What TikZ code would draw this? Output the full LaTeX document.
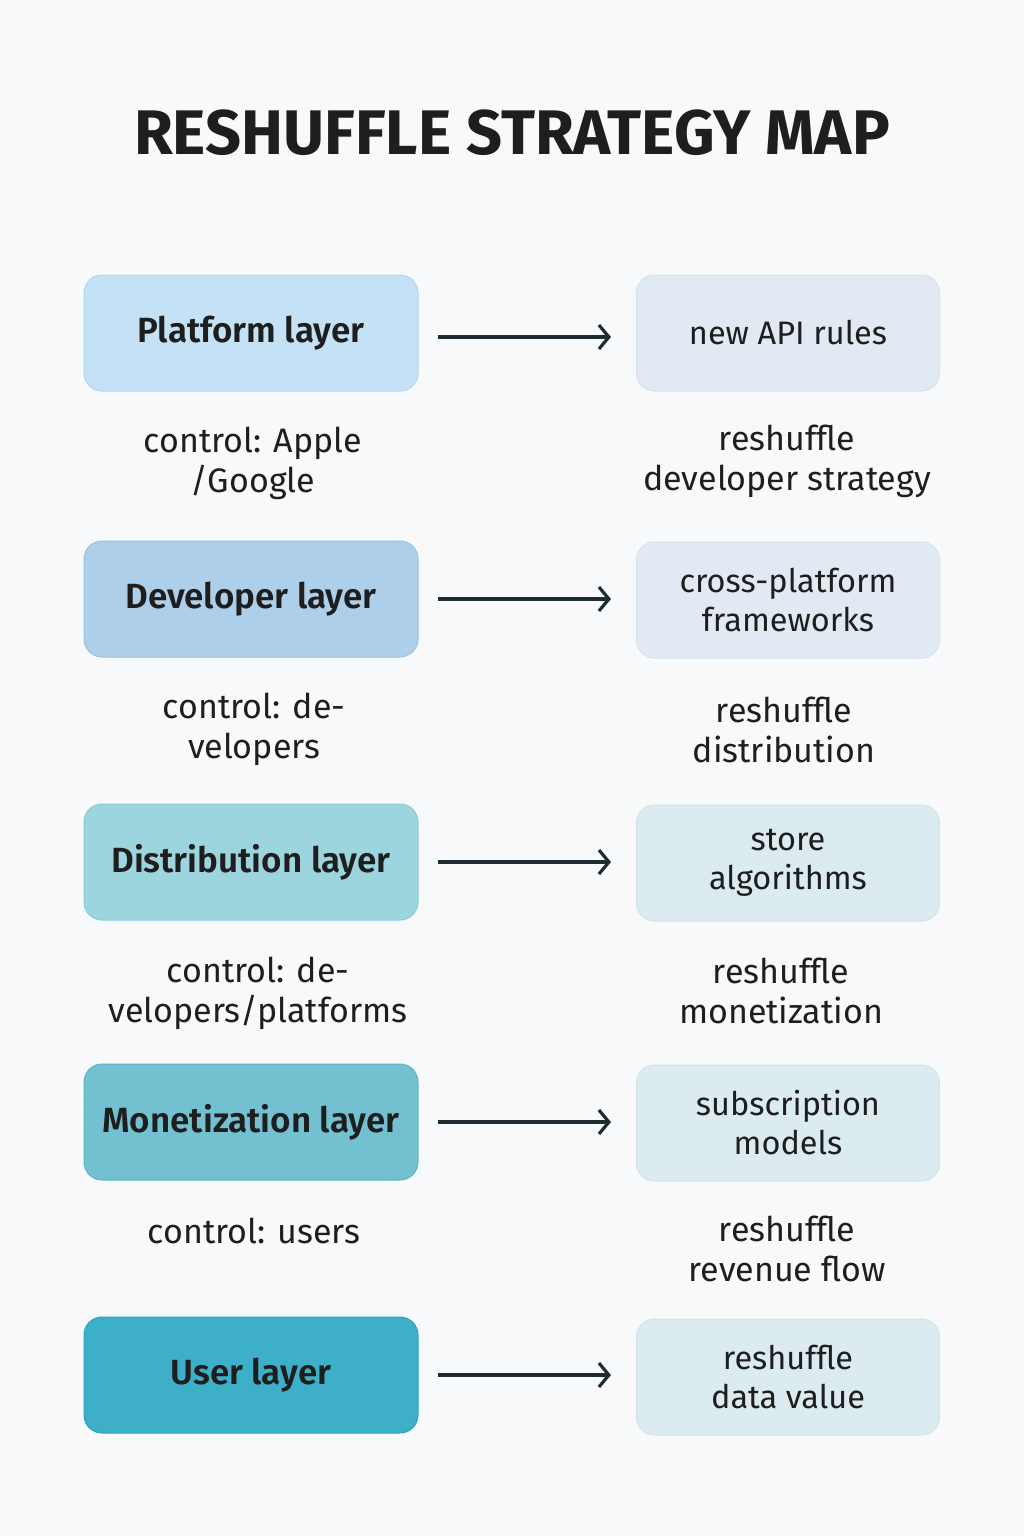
\documentclass[tikz,border=0pt]{standalone}
\usepackage{fontspec}
\setmainfont{Fira Sans}[BoldFont={Fira Sans SemiBold}]
\newfontfamily\heavyfont{Fira Sans Bold}
\usetikzlibrary{arrows.meta}
\definecolor{bg}{HTML}{F8F9FA}
\definecolor{ink}{HTML}{1E1E1E}
\definecolor{arr}{HTML}{1F2D33}
\definecolor{cA}{HTML}{C5E1F5}\definecolor{bA}{HTML}{B3D5EE}
\definecolor{cB}{HTML}{AECFEA}\definecolor{bB}{HTML}{9CC3E2}
\definecolor{cC}{HTML}{9DD5DF}\definecolor{bC}{HTML}{8CCBD6}
\definecolor{cD}{HTML}{72C0D0}\definecolor{bD}{HTML}{5FB4C7}
\definecolor{cE}{HTML}{3EAFC8}\definecolor{bE}{HTML}{2EA2BC}
\definecolor{rA}{HTML}{E1EAF3}\definecolor{rbA}{HTML}{D6E2EE}
\definecolor{rC}{HTML}{DBEBF0}\definecolor{rbC}{HTML}{D0E4EA}
\tikzset{
  layerbox/.style={rounded corners=18pt, minimum width=334pt, minimum height=116pt, line width=1pt, align=center, text=ink, font=\fontsize{35}{40}\selectfont\bfseries},
  effbox/.style={rounded corners=18pt, minimum width=303pt, minimum height=116pt, line width=1pt, align=center, text=ink, font=\fontsize{32.5}{39}\selectfont},
  lbl/.style={align=center, text=ink, font=\fontsize{34}{40}\selectfont},
  flow/.style={draw=arr, line width=3.2pt, -{Straight Barb[length=10pt,width=24pt,line width=3.2pt]}, shorten <=19pt, shorten >=25pt}
}
\begin{document}
\begin{tikzpicture}[x=1pt,y=-1pt]
\fill[bg] (0,0) rectangle (1024,1536);
\useasboundingbox (0,0) rectangle (1024,1536);
\node[text=ink, font=\fontsize{63}{70}\heavyfont] (title) at (512,133) {RESHUFFLE STRATEGY MAP};

\node[layerbox, fill=cA, draw=bA] (L1) at (251,333) {Platform layer};
\node[layerbox, fill=cB, draw=bB] (L2) at (251,599) {Developer layer};
\node[layerbox, fill=cC, draw=bC] (L3) at (251,862) {Distribution layer};
\node[layerbox, fill=cD, draw=bD] (L4) at (251,1122) {Monetization layer};
\node[layerbox, fill=cE, draw=bE] (L5) at (251,1375) {User layer};

\node[effbox, fill=rA, draw=rbA] (R1) at (788,333) {new API rules};
\node[effbox, fill=rA, draw=rbA] (R2) at (788,600) {cross-platform\\frameworks};
\node[effbox, fill=rC, draw=rbC] (R3) at (788,863) {store\\algorithms};
\node[effbox, fill=rC, draw=rbC] (R4) at (788,1123) {subscription\\models};
\node[effbox, fill=rC, draw=rbC] (R5) at (788,1377) {reshuffle\\data value};

\draw[flow] (L1.east) ++(0,4) -- (R1.west |- 0,337);
\draw[flow] (L2.east) -- (R2.west |- L2.east);
\draw[flow] (L3.east) -- (R3.west |- L3.east);
\draw[flow] (L4.east) -- (R4.west |- L4.east);
\draw[flow] (L5.east) -- (R5.west |- L5.east);

\node[lbl] (c1) at (253,463) {control: Apple\\/Google};
\node[lbl] (c2) at (254,729) {control: de-\\velopers};
\node[lbl] (c3) at (258,993) {control: de-\\velopers/platforms};
\node[lbl] (c4) at (254,1231) {control: users};

\node[lbl] (e1) at (787,461) {reshuffle\\developer strategy};
\node[lbl] (e2) at (784,730) {reshuffle\\distribution};
\node[lbl] (e3) at (781,991) {reshuffle\\monetization};
\node[lbl] (e4) at (787,1249) {reshuffle\\revenue flow};
\end{tikzpicture}
\end{document}
